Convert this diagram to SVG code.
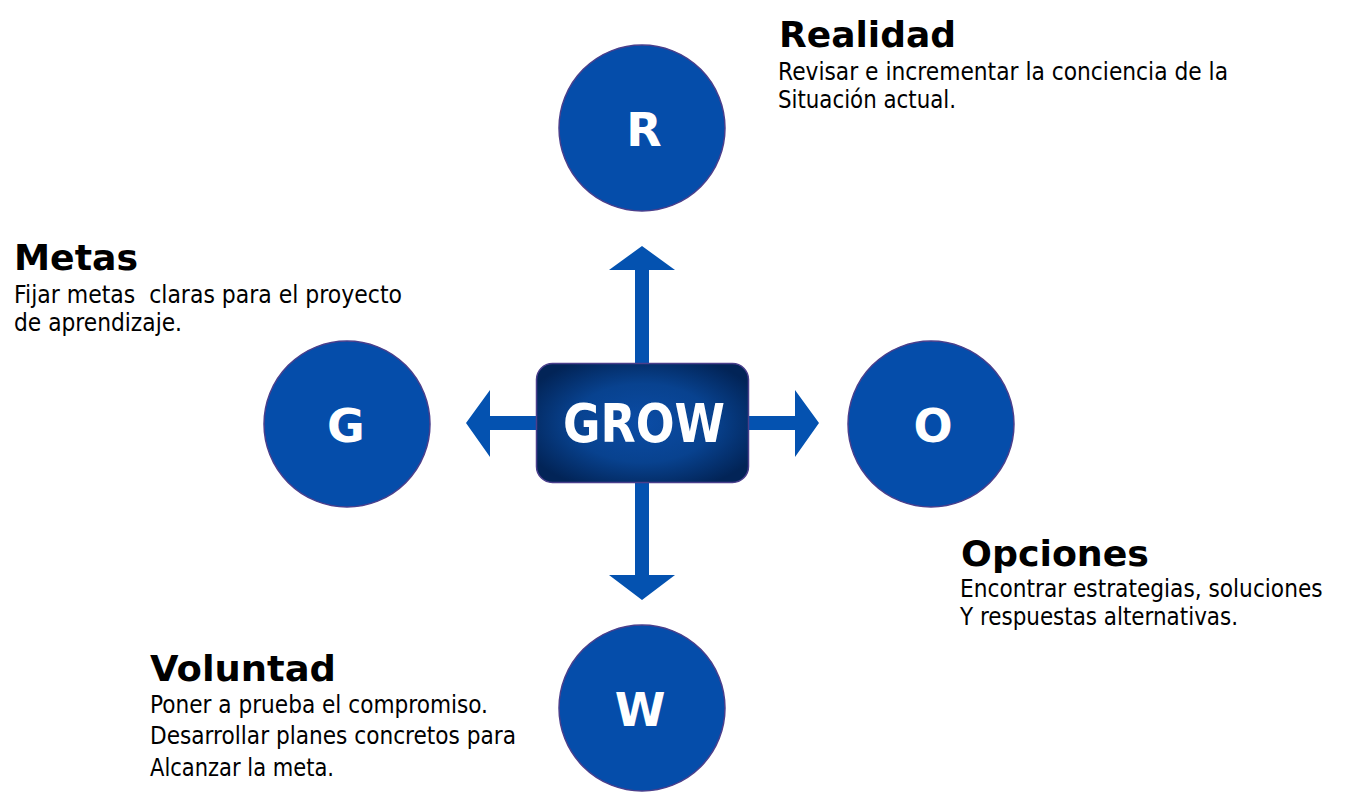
<svg xmlns="http://www.w3.org/2000/svg" width="1347" height="804" viewBox="0 0 1347 804">
<defs>
<radialGradient id="boxg" cx="50%" cy="50%" r="60%">
<stop offset="0" stop-color="#0B4CA5"/>
<stop offset="0.55" stop-color="#08428F"/>
<stop offset="1" stop-color="#022457"/>
</radialGradient>
<style>
.circ{fill:#054DAA;stroke:#4A3F8C;stroke-width:1.5}
.letter{font-family:"DejaVu Sans",Verdana,sans-serif;font-weight:bold;font-size:46px;fill:#ffffff;text-anchor:middle}
.arrow{fill:#0452B0}
.head{font-family:"DejaVu Sans",Verdana,sans-serif;font-weight:bold;font-size:36px;fill:#000000}
.body{font-family:"DejaVu Sans",Verdana,sans-serif;font-size:24px;fill:#000000}
</style>
</defs>
<rect width="1347" height="804" fill="#ffffff"/>

<g id="connectors">
<path class="arrow" d="M635,365 L635,270 L609,270 L642,246 L675,270 L649,270 L649,365 Z"/>
<path class="arrow" d="M635,481 L635,575 L609,575 L642,600 L675,575 L649,575 L649,481 Z"/>
<path class="arrow" d="M747,416 L795,416 L795,390 L819,423 L795,457 L795,430 L747,430 Z"/>
<path class="arrow" d="M538,416 L490,416 L490,390 L466,423 L490,457 L490,430 L538,430 Z"/>
</g>

<g id="node-grow">
<rect x="536.5" y="363.5" width="212" height="119" rx="16" ry="16" fill="url(#boxg)" stroke="#4A3F8C" stroke-width="1.5"/>
<text x="644" y="442" font-family="'DejaVu Sans',Verdana,sans-serif" font-weight="bold" font-size="54" fill="#ffffff" text-anchor="middle" textLength="162" lengthAdjust="spacingAndGlyphs">GROW</text>
</g>

<g id="node-r">
<circle class="circ" cx="642" cy="128" r="83"/>
<text class="letter" x="644" y="146">R</text>
</g>
<g id="node-g">
<circle class="circ" cx="347" cy="424" r="83"/>
<text class="letter" x="346" y="442">G</text>
</g>
<g id="node-o">
<circle class="circ" cx="931" cy="424" r="83"/>
<text class="letter" x="933" y="442">O</text>
</g>
<g id="node-w">
<circle class="circ" cx="642" cy="708" r="83"/>
<text class="letter" x="640" y="726">W</text>
</g>

<g id="label-realidad">
<text class="head" x="779" y="47" textLength="177" lengthAdjust="spacingAndGlyphs">Realidad</text>
<text class="body" x="778" y="80" textLength="450" lengthAdjust="spacingAndGlyphs">Revisar e incrementar la conciencia de la</text>
<text class="body" x="778" y="108" textLength="178" lengthAdjust="spacingAndGlyphs">Situación actual.</text>
</g>
<g id="label-metas">
<text class="head" x="14" y="270" textLength="124" lengthAdjust="spacingAndGlyphs">Metas</text>
<text class="body" x="14" y="303" textLength="388" lengthAdjust="spacingAndGlyphs" xml:space="preserve">Fijar metas  claras para el proyecto</text>
<text class="body" x="14" y="331" textLength="168" lengthAdjust="spacingAndGlyphs">de aprendizaje.</text>
</g>
<g id="label-opciones">
<text class="head" x="961" y="566" textLength="188" lengthAdjust="spacingAndGlyphs">Opciones</text>
<text class="body" transform="translate(960,597) scale(0.905,1)" x="0" y="0">Encontrar estrategias, soluciones</text>
<text class="body" x="960" y="625" textLength="278" lengthAdjust="spacingAndGlyphs">Y respuestas alternativas.</text>
</g>
<g id="label-voluntad">
<text class="head" x="150" y="681" textLength="186" lengthAdjust="spacingAndGlyphs">Voluntad</text>
<text class="body" x="150" y="713" textLength="338" lengthAdjust="spacingAndGlyphs">Poner a prueba el compromiso.</text>
<text class="body" x="150" y="744" textLength="366" lengthAdjust="spacingAndGlyphs">Desarrollar planes concretos para</text>
<text class="body" x="150" y="776" textLength="184" lengthAdjust="spacingAndGlyphs">Alcanzar la meta.</text>
</g>
</svg>
